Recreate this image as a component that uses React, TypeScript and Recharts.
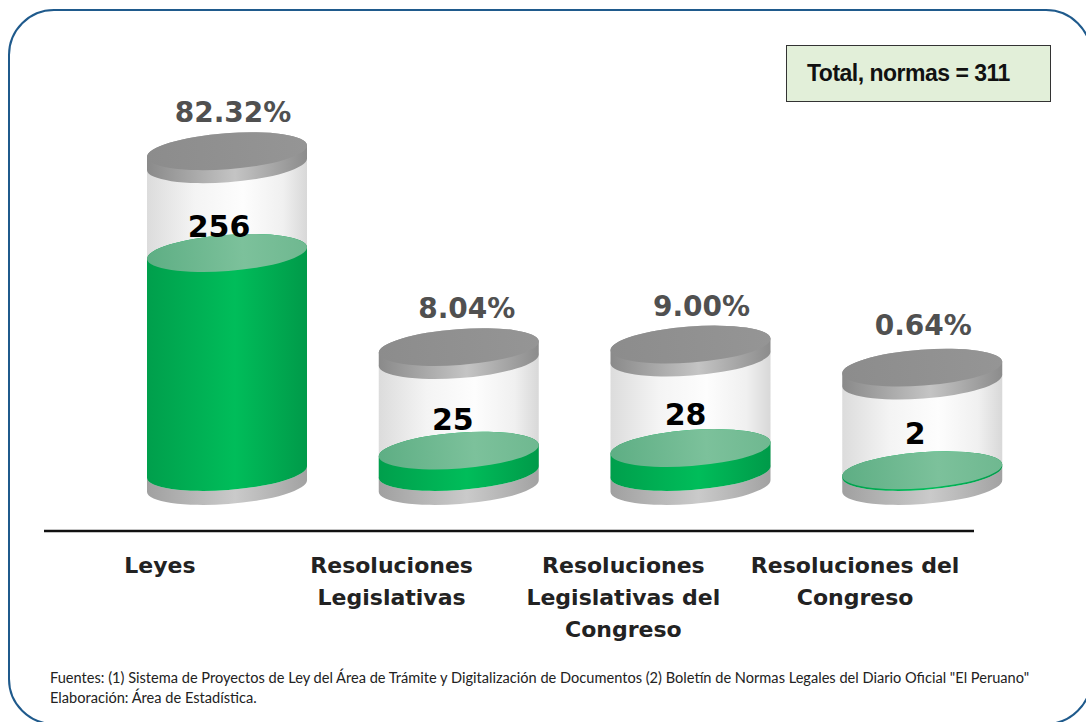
import { BarChart, Bar, XAxis, YAxis, LabelList, Text } from "recharts"

// Values
const categories = ["Leyes", "Resoluciones Legislativas", "Resoluciones Legislativas del Congreso", "Resoluciones del Congreso"]
const normas = [256, 25, 28, 2]
const porcentajes = ["82.32%", "8.04%", "9.00%", "0.64%"]
// height of each glass tube, in the same units as normas
const tubos = [375, 146, 149, 122]

const data = categories.map((categoria, i) => ({
  categoria,
  normas: normas[i],
  tubo: tubos[i],
  porcentaje: porcentajes[i],
}))

// the cylinders sit to the right of their axis labels
const SHIFT = 67
const RX = 80
const RY = 18
const TILT = -4.3
const EDGE = 6
const RIM = 13
const BASE = 14

// side wall of a tilted cylinder between two ellipse centres
function wall(cx: number, top: number, bottom: number) {
  const left = cx - RX
  const right = cx + RX
  const arc = `A ${RX + 0.2} ${RY} ${TILT} 0 0`
  return [
    `M ${left} ${top + EDGE}`,
    `L ${left} ${bottom + EDGE}`,
    `${arc} ${right} ${bottom - EDGE}`,
    `L ${right} ${top - EDGE}`,
    `${arc} ${left} ${top + EDGE}`,
    "Z",
  ].join(" ")
}

function Disc({ cx, cy, fill }: { cx: number; cy: number; fill: string }) {
  return <ellipse cx={cx} cy={cy} rx={RX + 0.2} ry={RY} fill={fill} transform={`rotate(${TILT} ${cx} ${cy})`} />
}

function TubeShape({ x, y, width, height }: any) {
  const cx = x + width / 2 + SHIFT
  const floor = y + height
  return (
    <g>
      <path d={wall(cx, floor, floor + BASE)} fill="url(#baseGrad)" />
      <path d={wall(cx, y + RIM, floor)} fill="url(#glassGrad)" />
      <path d={wall(cx, y, y + RIM)} fill="url(#rimGrad)" />
      <Disc cx={cx} cy={y} fill="url(#capGrad)" />
    </g>
  )
}

function LiquidShape({ x, y, width, height }: any) {
  const cx = x + width / 2 + SHIFT
  return (
    <g>
      <path d={wall(cx, y, y + height)} fill="url(#greenGrad)" />
      <Disc cx={cx} cy={y} fill="url(#surfaceGrad)" />
    </g>
  )
}

const pctNudge = [
  [6, -29],
  [8, -29],
  [11, -29],
  [1, -33],
]
const valueNudge = [
  [-8, -16],
  [-6, -21],
  [-5, -23],
  [-7, -26],
]

function PctLabel({ x, y, width, value, index }: any) {
  const [dx, dy] = pctNudge[index]
  return (
    <text x={x + width / 2 + SHIFT + dx} y={y + dy} textAnchor="middle" fontFamily="DejaVu Sans" fontWeight="bold" fontSize={28} fill="#505050">
      {value}
    </text>
  )
}

function ValueLabel({ x, y, width, value, index }: any) {
  const [dx, dy] = valueNudge[index]
  return (
    <text x={x + width / 2 + SHIFT + dx} y={y + dy} textAnchor="middle" fontFamily="DejaVu Sans" fontWeight="bold" fontSize={30} fill="#000">
      {value}
    </text>
  )
}

const tickStyle = { fontFamily: "DejaVu Sans", fontWeight: "bold", fontSize: 22 }

function CategoryTick({ x, y, payload }: any) {
  return (
    <Text x={x} y={y} dy={18} width={228} textAnchor="middle" verticalAnchor="start" lineHeight={32} style={tickStyle} fill="#222">
      {payload.value}
    </Text>
  )
}

function Stops({ colors }: { colors: [number, string][] }) {
  return (
    <>
      {colors.map(([o, c]) => (
        <stop key={o} offset={`${o}%`} stopColor={c} />
      ))}
    </>
  )
}

export default function App() {
  return (
    <div style={{ position: "absolute", left: 0, top: 0, width: 1086, height: 722, overflow: "hidden", background: "#fff" }}>
      <div
        style={{
          position: "absolute",
          left: 8,
          top: 9,
          width: 1084,
          height: 716,
          boxSizing: "border-box",
          border: "2.5px solid #1f5a8c",
          borderRadius: 46,
        }}
      />
      <div style={{ position: "absolute", left: 0, top: 0 }}>
        <BarChart
          width={1086}
          height={722}
          data={data}
          barSize={160}
          barGap={-160}
          margin={{ top: 40, right: 112, bottom: 131, left: 44 }}
        >
          <defs>
            <linearGradient id="glassGrad" x1="0" y1="0" x2="1" y2="0">
              <Stops colors={[[0, "#dcdcdc"], [30, "#f4f4f4"], [60, "#fdfdfd"], [85, "#f0f0f0"], [100, "#d8d8d8"]]} />
            </linearGradient>
            <linearGradient id="rimGrad" x1="0" y1="0" x2="1" y2="0">
              <Stops colors={[[0, "#8a8a8a"], [55, "#c4c4c4"], [100, "#8c8c8c"]]} />
            </linearGradient>
            <linearGradient id="baseGrad" x1="0" y1="0" x2="1" y2="0">
              <Stops colors={[[0, "#a0a0a0"], [55, "#cacaca"], [100, "#a2a2a2"]]} />
            </linearGradient>
            <linearGradient id="capGrad" x1="0" y1="0" x2="1" y2="0">
              <Stops colors={[[0, "#8c8c8c"], [100, "#959595"]]} />
            </linearGradient>
            <linearGradient id="greenGrad" x1="0" y1="0" x2="1" y2="0">
              <Stops colors={[[0, "#009f4c"], [55, "#00bd5a"], [100, "#009a49"]]} />
            </linearGradient>
            <linearGradient id="surfaceGrad" x1="0" y1="0" x2="1" y2="0">
              <Stops colors={[[0, "#5eae84"], [60, "#7cc19b"], [100, "#6fb890"]]} />
            </linearGradient>
          </defs>
          <XAxis
            dataKey="categoria"
            height={60}
            padding={{ left: 0, right: 3 }}
            axisLine={{ stroke: "#111", strokeWidth: 2.5 }}
            tickLine={false}
            interval={0}
            tick={<CategoryTick />}
          />
          <YAxis hide domain={[-69, 505]} />
          <Bar dataKey="tubo" shape={<TubeShape />} isAnimationActive={false}>
            <LabelList dataKey="porcentaje" content={<PctLabel />} />
          </Bar>
          <Bar dataKey="normas" shape={<LiquidShape />} isAnimationActive={false}>
            <LabelList dataKey="normas" content={<ValueLabel />} />
          </Bar>
        </BarChart>
      </div>
      <div
        style={{
          position: "absolute",
          left: 786,
          top: 45,
          width: 265,
          height: 57,
          boxSizing: "border-box",
          background: "#e2efd9",
          border: "1px solid #333",
          fontFamily: "Liberation Sans",
          fontWeight: "bold",
          fontSize: 23,
          letterSpacing: -0.5,
          lineHeight: "55px",
          paddingLeft: 20,
          color: "#111",
        }}
      >
        Total, normas = 311
      </div>
      <div
        style={{
          position: "absolute",
          left: 50,
          top: 668,
          width: 1030,
          fontFamily: "Lato",
          fontSize: 14.6,
          lineHeight: "20px",
          color: "#222",
          whiteSpace: "nowrap",
        }}
      >
        Fuentes: (1) Sistema de Proyectos de Ley del Área de Trámite y Digitalización de Documentos (2) Boletín de Normas Legales del Diario Oficial "El Peruano"
        <br />
        Elaboración: Área de Estadística.
      </div>
    </div>
  )
}
